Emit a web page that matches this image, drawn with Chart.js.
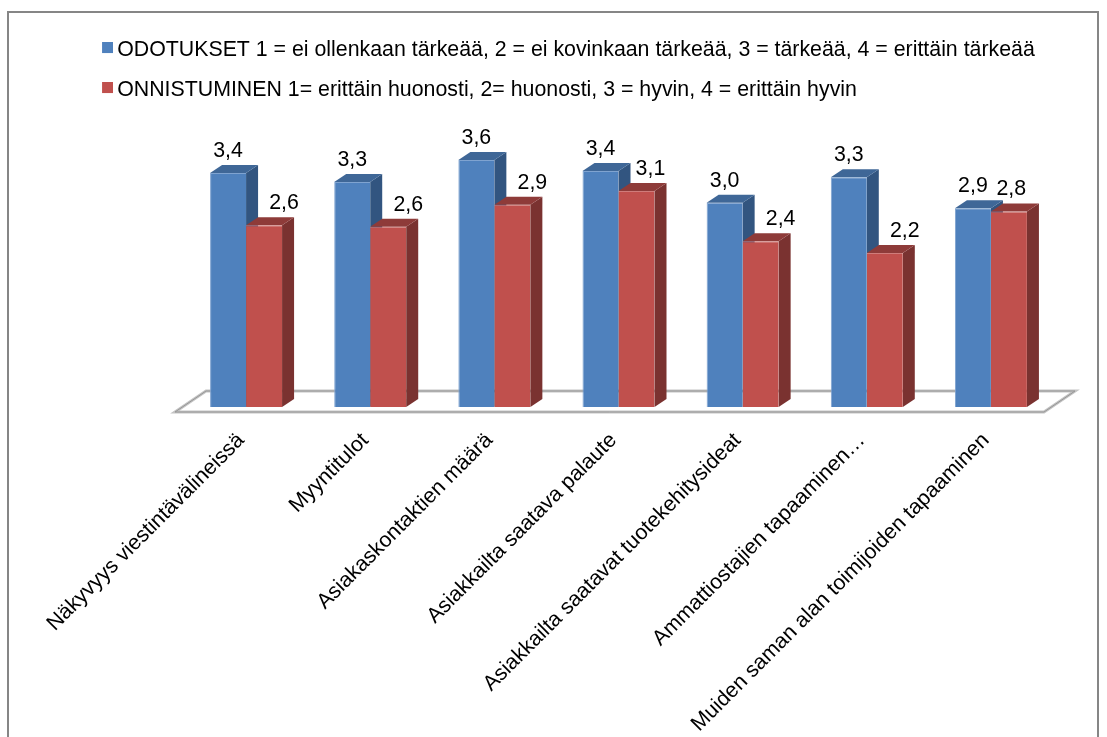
<!DOCTYPE html>
<html>
<head>
<meta charset="utf-8">
<style>
  html, body { margin: 0; padding: 0; background: #fff; }
  #wrap { width: 1107px; height: 737px; }
</style>
<script src="https://cdn.jsdelivr.net/npm/chart.js@4"></script>
</head>
<body>
<div id="wrap"><canvas id="myChart" width="1107" height="737"></canvas></div>
<script>
const categories = [
  'Näkyvyys viestintävälineissä',
  'Myyntitulot',
  'Asiakaskontaktien määrä',
  'Asiakkailta saatava palaute',
  'Asiakkailta saatavat tuotekehitysideat',
  'Ammattiostajien tapaaminen…',
  'Muiden saman alan toimijoiden tapaaminen'
];
const odotukset = [3.40, 3.27, 3.59, 3.43, 2.97, 3.34, 2.89];
const onnistuminen = [2.64, 2.62, 2.94, 3.14, 2.41, 2.24, 2.84];
const seriesNames = [
  'ODOTUKSET 1 = ei ollenkaan tärkeää, 2 = ei kovinkaan tärkeää, 3 = tärkeää, 4 = erittäin tärkeää',
  'ONNISTUMINEN 1= erittäin huonosti, 2= huonosti, 3 = hyvin, 4 = erittäin hyvin'
];
const seriesColors = ['#4f81bd', '#c0504d'];

const fontName = '"Liberation Sans", Arial, sans-serif';
const fontSize = 21.33;
const depthX = 12;
const depthY = 8;

function face(c, pts, color) {
  c.fillStyle = color;
  c.beginPath();
  pts.forEach((p, i) => i ? c.lineTo(p[0], p[1]) : c.moveTo(p[0], p[1]));
  c.closePath();
  c.fill();
}

// legend square as an image, so it can sit closer to the text than chart.js allows
function legendSquare(color) {
  const cv = document.createElement('canvas');
  cv.width = 13;
  cv.height = 16;
  const c = cv.getContext('2d');
  c.fillStyle = color;
  c.fillRect(2, 0, 11, 11);
  return cv;
}

const box3d = {
  id: 'box3d',
  beforeDraw(chart) {
    // outer frame, bottom edge runs off the picture
    const c = chart.ctx;
    c.save();
    c.strokeStyle = '#868686';
    c.lineWidth = 2;
    c.strokeRect(8, 12, 1090, 740);
    c.restore();
  },
  beforeDatasetsDraw(chart) {
    const c = chart.ctx;
    const x = chart.scales.x;
    const base = chart.scales.y.getPixelForValue(0);

    // floor
    c.save();
    c.beginPath();
    c.moveTo(x.left - 9, base + 5);
    c.lineTo(x.right - 9, base + 5);
    c.lineTo(x.right + 22, base - 16);
    c.lineTo(x.left + 22, base - 16);
    c.closePath();
    c.fillStyle = '#fff';
    c.fill();
    c.strokeStyle = '#c4c4c4';
    c.lineWidth = 3;
    c.stroke();
    c.strokeStyle = '#969696';
    c.lineWidth = 1;
    c.stroke();
    c.restore();

    const sideColors = ['#325580', '#7a3230'];
    const topColors = ['#3f6797', '#8e3b39'];
    chart.data.datasets.forEach((ds, i) => {
      chart.getDatasetMeta(i).data.forEach(bar => {
        const l = bar.x - bar.width / 2;
        const r = bar.x + bar.width / 2;
        face(c, [[r, bar.y], [r + depthX, bar.y - depthY], [r + depthX, base - depthY], [r, base]], sideColors[i]);
        face(c, [[l, bar.y], [l + depthX, bar.y - depthY], [r + depthX, bar.y - depthY], [r, bar.y]], topColors[i]);
      });
    });
  },
  afterDatasetsDraw(chart) {
    const c = chart.ctx;
    c.save();
    c.fillStyle = '#000';
    c.font = fontSize + 'px ' + fontName;
    c.textAlign = 'center';
    c.textBaseline = 'middle';
    chart.data.datasets.forEach((ds, i) => {
      chart.getDatasetMeta(i).data.forEach((bar, j) => {
        // red label moves right, clear of the blue bar, the taller blue is
        const gap = odotukset[j] - onnistuminen[j];
        const shift = i === 1 ? Math.min(20, gap * 48) : 0;
        c.fillText(ds.data[j].toFixed(1).replace('.', ','), bar.x + shift, bar.y - 22);
      });
    });
    c.restore();
  }
};

new Chart(document.getElementById('myChart'), {
  type: 'bar',
  data: {
    labels: categories,
    datasets: [
      { label: seriesNames[0], data: odotukset, backgroundColor: seriesColors[0], borderColor: '#7fa3d0', borderWidth: { left: 1, bottom: 1, top: 1, right: 0 } },
      { label: seriesNames[1], data: onnistuminen, backgroundColor: seriesColors[1], borderColor: '#cf7c7a', borderWidth: { left: 0, bottom: 1, top: 1, right: 0 } }
    ]
  },
  options: {
    responsive: false,
    animation: false,
    layout: { padding: { left: 87.83, right: 54, top: 20.67, bottom: 0 } },
    datasets: { bar: { categoryPercentage: 0.58, barPercentage: 1 } },
    plugins: {
      tooltip: { enabled: false },
      legend: {
        position: 'top',
        align: 'start',
        labels: {
          usePointStyle: true,
          boxWidth: 0.01,
          boxHeight: 11,
          padding: 18.67,
          color: '#000',
          font: { family: fontName, size: fontSize },
          generateLabels(chart) {
            return Chart.defaults.plugins.legend.labels.generateLabels(chart).map((item, i) => {
              item.pointStyle = legendSquare(seriesColors[i]);
              return item;
            });
          }
        }
      }
    },
    scales: {
      x: {
        grid: { display: false },
        border: { display: false },
        ticks: {
          autoSkip: false,
          minRotation: 45,
          maxRotation: 45,
          padding: 13,
          labelOffset: -5,
          color: '#000',
          font: { family: fontName, size: fontSize }
        },
        afterFit(s) {
          s.height = 330;
          s.paddingLeft = 0;
          s.paddingRight = 0;
        }
      },
      y: {
        min: 0,
        max: 4.307,
        grid: { display: false },
        border: { display: false },
        ticks: { display: false },
        afterFit(s) { s.width = 96.17; }
      }
    }
  },
  plugins: [box3d]
});
</script>
</body>
</html>
